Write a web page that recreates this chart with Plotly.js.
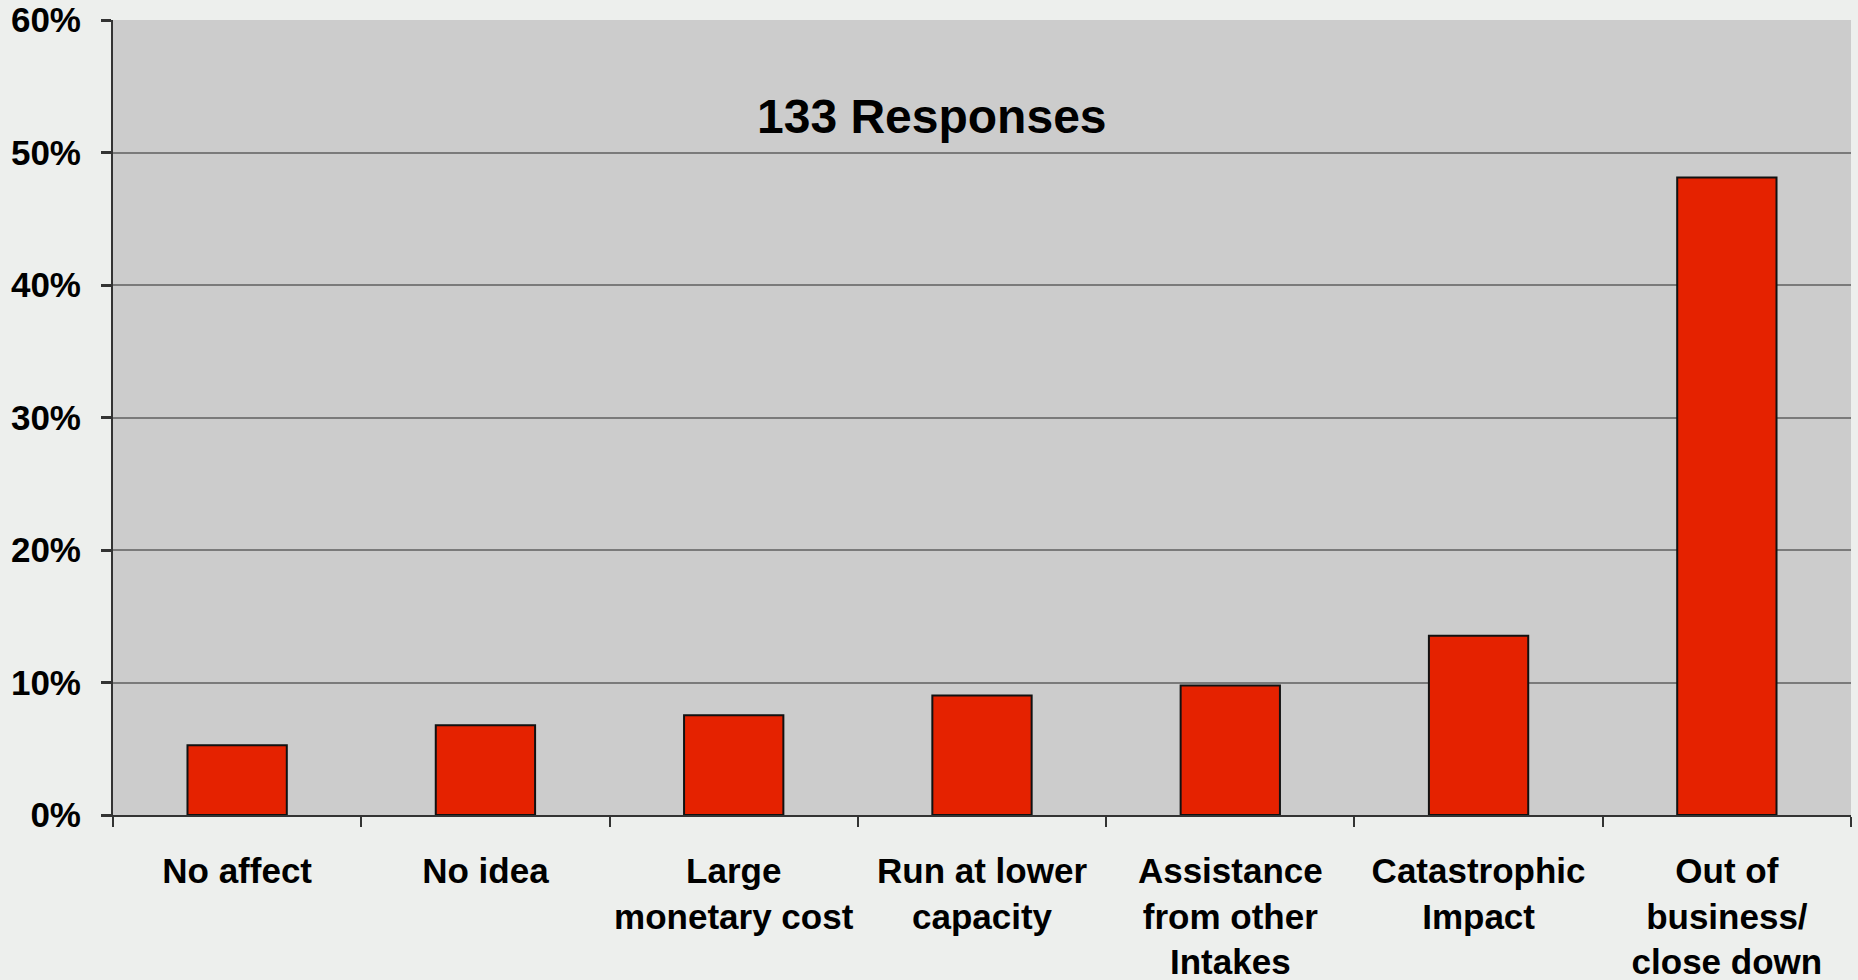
<!DOCTYPE html>
<html>
<head>
<meta charset="utf-8">
<script src="https://cdn.plot.ly/plotly-3.0.1.min.js"></script>
<style>
  html, body { margin: 0; padding: 0; background: #edefed; }
  #chart { width: 1858px; height: 980px; }
</style>
</head>
<body>
<div id="chart"></div>
<script>
// Data (133 responses)
const categories = [
  "No affect",
  "No idea",
  "Large<br>monetary cost",
  "Run at lower<br>capacity",
  "Assistance<br>from other<br>Intakes",
  "Catastrophic<br>Impact",
  "Out of<br>business/<br>close down"
];
const percentValues = [5.26, 6.77, 7.52, 9.02, 9.77, 13.53, 48.12];
const yTickValues = [0, 10, 20, 30, 40, 50, 60];
const yTickLabels = ["0%", "10%", "20%", "30%", "40%", "50%", "60%"];
const chartTitle = "133 Responses";

const fontFamily = "Liberation Sans, Arial, sans-serif";

const trace = {
  type: "bar",
  x: categories,
  y: percentValues,
  marker: {
    color: "#e52200",
    line: { color: "#111111", width: 2 }
  },
  hoverinfo: "skip"
};

const layout = {
  width: 1858,
  height: 980,
  margin: { l: 113, r: 7, t: 20, b: 165 },
  paper_bgcolor: "#edefed",
  plot_bgcolor: "#cccccc",
  showlegend: false,
  bargap: 0.6,
  font: { family: fontFamily, color: "#000000" },
  xaxis: {
    type: "category",
    tickson: "boundaries",
    ticks: "outside",
    ticklen: 10,
    tickwidth: 2,
    tickcolor: "#333333",
    tickangle: 0,
    showline: true,
    linecolor: "#333333",
    linewidth: 2,
    showgrid: false,
    ticklabelstandoff: 24,
    tickfont: { family: fontFamily, size: 35, color: "#000000", weight: "bold" },
    fixedrange: true
  },
  yaxis: {
    range: [0, 60],
    tickvals: yTickValues,
    ticktext: yTickLabels,
    ticks: "outside",
    ticklen: 10,
    tickwidth: 3,
    tickcolor: "#333333",
    showline: true,
    linecolor: "#333333",
    linewidth: 2,
    showgrid: true,
    gridcolor: "#7a7a7a",
    gridwidth: 2,
    zeroline: false,
    ticklabelstandoff: 13,
    tickfont: { family: fontFamily, size: 35, color: "#000000", weight: "bold" },
    fixedrange: true
  },
  annotations: [{
    text: chartTitle,
    xref: "paper",
    yref: "paper",
    x: 0.471,
    y: 0.879,
    xanchor: "center",
    yanchor: "middle",
    showarrow: false,
    font: { family: fontFamily, size: 48, color: "#000000", weight: "bold" }
  }]
};

Plotly.newPlot("chart", [trace], layout, { displayModeBar: false, staticPlot: true });
</script>
</body>
</html>
